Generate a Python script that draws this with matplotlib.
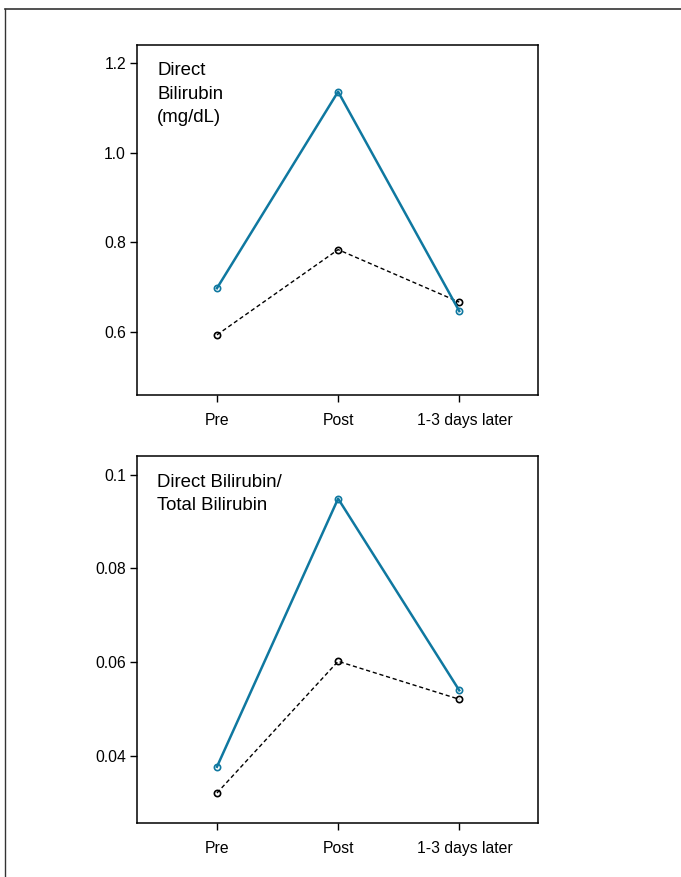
import matplotlib
matplotlib.use("Agg")
import matplotlib.pyplot as plt
from matplotlib.lines import Line2D
from matplotlib.transforms import ScaledTranslation

plt.rcParams['font.family'] = ['Liberation Sans', 'DejaVu Sans']

categories = ["Pre", "Post", "1-3 days later"]
direct_blue = [0.698, 1.136, 0.647]
direct_black = [0.594, 0.784, 0.667]
ratio_blue = [0.0377, 0.0949, 0.0540]
ratio_black = [0.0321, 0.0602, 0.0521]
top_yticks = [0.6, 0.8, 1.0, 1.2]
top_yticklabels = ["0.6", "0.8", "1.0", "1.2"]
bot_yticks = [0.04, 0.06, 0.08, 0.1]
bot_yticklabels = ["0.04", "0.06", "0.08", "0.1"]

BLUE = "#0f78a0"
W, H = 681, 877
fig = plt.figure(figsize=(W/100, H/100), dpi=100)

# outer frame (top and left lines)
fig.add_artist(Line2D([5/W, 1], [1 - 9/H, 1 - 9/H], color="#333333", lw=1.2, transform=fig.transFigure))
fig.add_artist(Line2D([5/W, 5/W], [0, 1 - 9/H], color="#333333", lw=1.0, transform=fig.transFigure))

def make_ax(top, bottom):
    left, right = 137, 538
    return fig.add_axes([left/W, 1 - bottom/H, (right-left)/W, (bottom-top)/H])

ax1 = make_ax(45, 395)
ax2 = make_ax(456, 823)

x = list(range(len(categories)))

def style(ax, yticks, ylabels, ylim, label):
    ax.set_xlim(-0.66, 2.65)
    ax.set_ylim(*ylim)
    ax.set_xticks(x)
    ax.set_xticklabels(categories)
    ax.set_yticks(yticks)
    ax.set_yticklabels(ylabels)
    ax.tick_params(direction='out', length=5, width=1, labelsize=11.3)
    ax.tick_params(axis='y', pad=3)
    ax.tick_params(axis='x', pad=8)
    for s in ax.spines.values():
        s.set_linewidth(1.1)
    lbl = ax.get_xticklabels()[-1]
    lbl.set_transform(lbl.get_transform() + ScaledTranslation(6/100, 0, fig.dpi_scale_trans))
    ax.text(0.05, 0.951, label, transform=ax.transAxes, va='top', ha='left',
            fontsize=13.4, linespacing=1.5)

ax1.plot(x, direct_black, color='black', ls=(0, (3, 2)), lw=1.0, marker='o',
         ms=4.5, mfc='none', mec='black', mew=1.2)
ax1.plot(x, direct_blue, color=BLUE, lw=1.8, marker='o',
         ms=4.5, mfc='none', mec=BLUE, mew=1.2)
style(ax1, top_yticks, top_yticklabels, (0.46, 1.24), "Direct\nBilirubin\n(mg/dL)")

ax2.plot(x, ratio_black, color='black', ls=(0, (3, 2)), lw=1.0, marker='o',
         ms=4.5, mfc='none', mec='black', mew=1.2)
ax2.plot(x, ratio_blue, color=BLUE, lw=1.8, marker='o',
         ms=4.5, mfc='none', mec=BLUE, mew=1.2)
style(ax2, bot_yticks, bot_yticklabels, (0.0257, 0.104), "Direct Bilirubin/\nTotal Bilirubin")

fig.savefig("out.png", dpi=100)
